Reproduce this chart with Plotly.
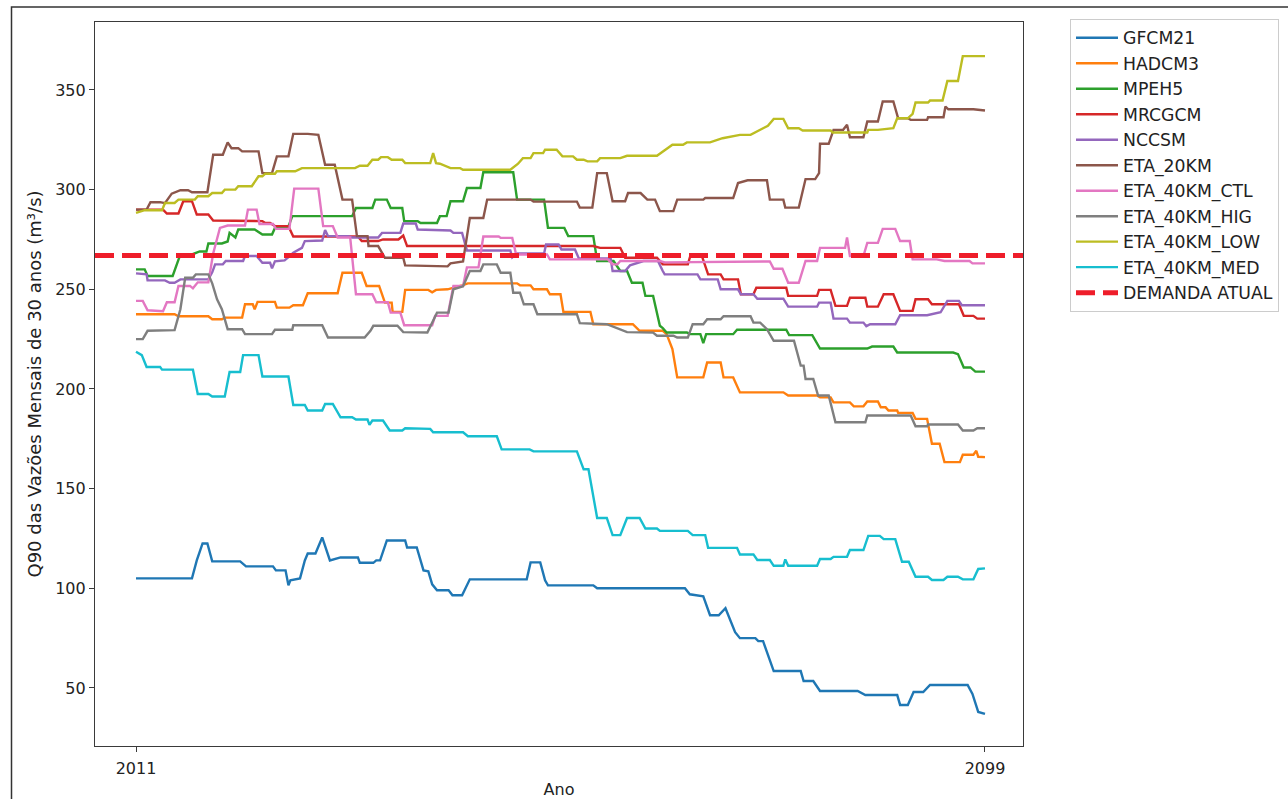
import plotly.graph_objects as go

# Q90 of 30-year monthly flows per climate model (m³/s), breakpoints by year
gfcm21_ano = [2011.0, 2016.8, 2017.3, 2017.9, 2018.4, 2018.9, 2021.8, 2022.4, 2025.2, 2025.5,
              2026.5, 2026.8, 2027.0, 2028.0, 2028.5, 2028.8, 2029.6, 2030.3, 2031.1, 2032.2,
              2034.0, 2034.2, 2035.6, 2035.9, 2036.3, 2037.0, 2038.9, 2039.1, 2040.1, 2040.8,
              2041.3, 2041.7, 2042.2, 2043.4, 2043.8, 2044.8, 2045.6, 2051.5, 2051.9, 2052.9,
              2053.4, 2053.7, 2058.4, 2058.8, 2067.9, 2068.4, 2069.8, 2070.5, 2071.4, 2072.1,
              2073.1, 2073.6, 2075.2, 2075.5, 2076.0, 2077.1, 2079.9, 2080.2, 2081.2, 2081.9,
              2085.8, 2086.6, 2089.9, 2090.2, 2091.0, 2091.6, 2092.6, 2093.3, 2097.2, 2097.7,
              2098.3, 2099.0]
gfcm21_q90 = [105, 105, 114, 122.5, 122.5, 113.5, 113.5, 111, 111, 109,
              109, 101.5, 104, 105, 114, 117.5, 117.5, 125.5, 114, 115.5,
              115.5, 112.8, 112.8, 114, 114, 124, 124, 120.5, 120.5, 109,
              108.5, 102, 99, 99, 96.5, 96.5, 104.5, 104.5, 113, 113,
              104, 101.5, 101.5, 100, 100, 97, 96, 86.5, 86.5, 90,
              78, 75, 75, 73.5, 73.5, 58.5, 58.5, 53.5, 53.5, 48.5,
              48.5, 46.5, 46.5, 41.5, 41.5, 48, 48, 51.5, 51.5, 47,
              38, 37]

hadcm3_ano = [2011.0, 2015.0, 2015.4, 2018.5, 2018.9, 2019.9, 2020.2, 2022.0, 2022.3, 2023.1,
              2023.3, 2023.6, 2025.4, 2025.6, 2026.9, 2027.3, 2028.3, 2028.8, 2031.9, 2032.4,
              2034.4, 2034.9, 2036.2, 2036.8, 2037.5, 2037.6, 2038.6, 2038.9, 2041.3, 2041.7,
              2042.1, 2042.8, 2043.3, 2044.8, 2045.4, 2050.5, 2050.8, 2051.9, 2052.2, 2053.6,
              2053.9, 2055.0, 2055.3, 2058.1, 2058.4, 2062.5, 2063.2, 2065.6, 2066.0, 2066.6,
              2067.1, 2069.8, 2070.2, 2071.6, 2071.9, 2072.9, 2073.6, 2078.1, 2078.6, 2081.6,
              2081.9, 2083.0, 2083.3, 2085.0, 2085.4, 2086.4, 2086.8, 2087.9, 2088.2, 2088.7,
              2089.0, 2089.9, 2090.0, 2091.5, 2091.8, 2093.0, 2093.5, 2094.3, 2094.8, 2096.4,
              2096.7, 2097.8, 2098.1, 2098.3, 2099.0]
hadcm3_q90 = [237.5, 237.5, 236.5, 236.5, 235, 235, 235.8, 235.8, 242.5, 242.5,
              240, 243.7, 243.7, 240.8, 240.8, 242, 242, 248, 248, 258.3,
              258.3, 251.7, 251.7, 243.3, 243.3, 238.7, 238.7, 249.7, 249.7, 248.5,
              249.7, 249.7, 250, 252, 253, 253, 252, 252, 250, 250,
              247.5, 247.5, 238.7, 238.7, 232.5, 232.5, 229.2, 229.2, 227.5, 220,
              205.8, 205.8, 213.3, 213.3, 205.8, 205.8, 198.3, 198.3, 196.7, 196.7,
              195.8, 195.8, 193.3, 193.3, 191.3, 191.3, 193.7, 193.7, 190.8, 190.8,
              189.2, 189.2, 188, 188, 185, 185, 172.5, 172.5, 163.3, 163.3,
              167, 167, 169, 166, 165.8]

mpeh5_ano = [2011.0, 2011.9, 2012.2, 2014.8, 2015.6, 2016.8, 2017.6, 2018.3, 2018.5, 2019.9,
             2020.5, 2020.7, 2021.3, 2021.6, 2023.3, 2024.1, 2025.1, 2025.4, 2026.8, 2027.2,
             2033.4, 2033.8, 2035.5, 2035.8, 2037.0, 2037.4, 2038.6, 2038.8, 2040.2, 2040.5,
             2042.2, 2042.5, 2043.2, 2043.6, 2044.9, 2045.3, 2046.7, 2047.0, 2050.1, 2050.5,
             2053.3, 2053.7, 2055.4, 2055.8, 2058.4, 2058.8, 2060.5, 2061.2, 2061.9, 2062.4,
             2063.5, 2063.8, 2064.6, 2065.3, 2065.6, 2066.0, 2068.1, 2068.4, 2069.5, 2069.8,
             2070.1, 2072.9, 2073.3, 2078.4, 2078.7, 2081.1, 2081.9, 2086.8, 2087.3, 2089.5,
             2089.9, 2095.7, 2096.2, 2096.8, 2097.5, 2098.0, 2099.0]
mpeh5_q90 = [260, 260, 256.7, 256.7, 267.5, 267.5, 269, 269, 273, 273,
             274, 278.3, 276, 280, 280, 277.5, 277.5, 280.8, 281.5, 286.7,
             286.7, 290.8, 290.8, 295, 295, 290.8, 290.8, 284.2, 284.2, 283.3,
             283.3, 286.7, 286.7, 294.2, 294.2, 300.8, 300.8, 308.7, 308.7, 295,
             295, 280.8, 280.8, 276.7, 276.7, 264.2, 264.2, 259.2, 259.2, 253.3,
             253.3, 246.7, 246.7, 231.7, 230.5, 228.3, 228.3, 227.5, 227.5, 223,
             227.5, 227.5, 229.7, 229.7, 227, 227, 220.3, 220.3, 221.3, 221.3,
             218.3, 218.3, 217.5, 210.8, 210.8, 208.7, 208.7]

mrcgcm_ano = [2011.0, 2013.8, 2014.2, 2015.4, 2015.9, 2016.8, 2017.3, 2018.5, 2019.0, 2024.1,
              2024.4, 2024.9, 2025.4, 2026.8, 2027.3, 2034.0, 2034.4, 2036.1, 2036.6, 2038.2,
              2038.7, 2039.1, 2058.4, 2059.1, 2061.2, 2061.7, 2065.0, 2065.6, 2068.2, 2068.5,
              2069.6, 2070.3, 2071.6, 2071.9, 2073.4, 2073.7, 2075.0, 2075.3, 2078.4, 2078.6,
              2081.6, 2081.8, 2083.0, 2083.5, 2084.7, 2085.0, 2086.6, 2086.8, 2087.9, 2088.5,
              2089.5, 2090.2, 2091.5, 2091.8, 2093.1, 2093.5, 2096.3, 2096.8, 2097.8, 2098.2,
              2099.0]
mrcgcm_q90 = [290, 290, 288, 288, 294.2, 294.2, 287.5, 287.5, 284.5, 284.2,
              283.3, 283.3, 281.7, 281.7, 276.5, 276.5, 274.2, 274.2, 275, 275,
              277, 271.7, 271.7, 270.8, 270.8, 265.8, 265.8, 262.5, 262.5, 267.5,
              267.5, 257.5, 257.5, 255, 255, 247.5, 247.5, 250.8, 250.8, 246.7,
              246.7, 249.7, 249.7, 241.7, 241.7, 245.8, 245.8, 241.3, 241.3, 247.5,
              247.5, 239.2, 239.2, 245, 245, 242.5, 242.5, 236.7, 236.7, 235.3,
              235.3]

nccsm_ano = [2011.0, 2012.1, 2012.2, 2014.0, 2014.5, 2015.0, 2015.6, 2018.5, 2018.9, 2019.2,
             2020.0, 2020.3, 2022.1, 2022.3, 2023.5, 2024.1, 2024.9, 2025.1, 2025.4, 2026.4,
             2026.9, 2027.3, 2028.2, 2028.5, 2030.3, 2030.6, 2030.9, 2033.0, 2033.4, 2036.1,
             2036.5, 2038.4, 2038.7, 2040.0, 2040.2, 2043.6, 2043.9, 2044.8, 2045.3, 2049.8,
             2050.0, 2050.5, 2053.3, 2053.5, 2054.8, 2055.1, 2056.5, 2056.9, 2060.2, 2060.4,
             2061.7, 2062.2, 2063.6, 2065.1, 2065.6, 2065.8, 2069.2, 2069.5, 2071.3, 2071.6,
             2073.4, 2073.7, 2075.0, 2075.4, 2078.1, 2078.6, 2081.6, 2081.8, 2083.0, 2083.3,
             2084.7, 2085.0, 2086.4, 2086.7, 2087.1, 2089.7, 2090.2, 2093.0, 2094.4, 2095.1,
             2096.3, 2096.6, 2099.0]
nccsm_q90 = [258, 257.5, 254.5, 254.5, 253.3, 253.3, 255, 255, 258.5, 262.5,
             262.5, 264.2, 264.2, 266.7, 266.7, 263.3, 263.3, 260.5, 264, 264.5,
             266.5, 268.3, 270.8, 274.2, 274.5, 279.7, 276.7, 276.7, 276, 276,
             278.3, 278.3, 283, 283, 280, 279.5, 278.3, 278.3, 269.5, 269.5,
             266, 268, 268, 272.5, 272.5, 270, 270, 265.5, 265.5, 259.2,
             259.2, 262, 264.2, 264.2, 259.2, 257.5, 257.5, 255, 255, 250,
             250, 247.5, 247.5, 245.3, 245.3, 241.3, 241.3, 243.3, 243.3, 235.3,
             235.3, 233.3, 233.3, 231.5, 232.5, 232.5, 237, 237, 238.5, 244.2,
             244.2, 242, 242]

eta_20km_ano = [2011.0, 2012.1, 2012.5, 2013.5, 2014.0, 2014.7, 2015.6, 2016.4, 2016.8, 2018.4,
                2019.0, 2020.0, 2020.5, 2020.9, 2021.6, 2022.0, 2023.7, 2024.1, 2025.1, 2025.6,
                2026.8, 2027.3, 2028.8, 2029.9, 2030.6, 2031.6, 2032.4, 2033.4, 2033.9, 2035.0,
                2035.1, 2036.1, 2036.8, 2038.7, 2038.9, 2043.3, 2043.6, 2044.9, 2045.6, 2047.0,
                2047.4, 2051.9, 2052.2, 2056.7, 2057.0, 2058.3, 2058.8, 2059.8, 2060.4, 2061.7,
                2062.0, 2063.3, 2064.0, 2064.8, 2065.3, 2066.7, 2067.1, 2069.8, 2070.0, 2072.9,
                2073.4, 2074.4, 2076.4, 2076.7, 2078.1, 2078.3, 2079.7, 2080.4, 2081.4, 2081.8,
                2081.9, 2082.8, 2083.3, 2084.3, 2084.7, 2085.0, 2086.4, 2086.8, 2087.9, 2088.4,
                2089.5, 2090.0, 2091.0, 2091.3, 2093.0, 2093.1, 2094.7, 2094.9, 2095.2, 2097.8,
                2099.0]
eta_20km_q90 = [290, 290, 293.7, 293.7, 293.2, 298, 299.7, 299.7, 298.7, 298.7,
                317.5, 317.5, 323.7, 320.8, 320.8, 319.2, 319.2, 308.3, 308.3, 316.7,
                316.7, 328, 328, 327.5, 312.5, 312.5, 295, 295, 276.7, 276.7,
                271.7, 271.7, 265.8, 265.8, 262, 261.5, 263, 264, 285.8, 285.8,
                295, 295, 294, 294, 291, 291, 308.3, 308.3, 294.2, 294.2,
                298.3, 298.3, 295, 295, 289.2, 289.2, 295, 295, 295.8, 295.8,
                303.3, 304.7, 304.7, 295, 295, 291, 291, 305.3, 305.3, 308.3,
                323, 323, 330, 330, 332.5, 326.3, 326.3, 334.2, 334.2, 344.2,
                344.2, 335.8, 335.8, 335, 335, 336.3, 336.3, 341.7, 340.3, 340.3,
                339.7]

eta_40km_ctl_ano = [2011.0, 2011.7, 2012.2, 2013.8, 2014.2, 2015.0, 2015.4, 2016.6, 2016.9, 2017.4,
                    2018.5, 2019.0, 2019.7, 2020.5, 2022.3, 2022.6, 2023.5, 2023.8, 2025.2, 2025.5,
                    2026.9, 2027.4, 2029.9, 2030.4, 2031.4, 2031.9, 2033.2, 2033.8, 2035.5, 2035.9,
                    2037.1, 2037.4, 2038.4, 2038.8, 2041.7, 2042.0, 2043.3, 2043.9, 2044.9, 2045.3,
                    2046.5, 2047.0, 2048.6, 2048.8, 2050.0, 2050.4, 2053.6, 2053.9, 2059.9, 2060.4,
                    2060.9, 2061.2, 2065.3, 2065.8, 2076.7, 2077.1, 2078.0, 2078.6, 2079.7, 2080.4,
                    2081.6, 2081.9, 2084.5, 2084.7, 2085.0, 2086.4, 2086.8, 2087.9, 2088.4, 2089.7,
                    2090.2, 2091.2, 2091.5, 2094.0, 2094.8, 2097.4, 2097.7, 2099.0]
eta_40km_ctl_q90 = [244.2, 244.2, 239.5, 239, 243.5, 243.5, 251.7, 251.7, 250.5, 253.5,
                    253.5, 268, 280.8, 282, 282, 290, 290, 282.8, 282.8, 280.3,
                    280.3, 300.5, 300.5, 281.7, 281.7, 276, 276, 247.5, 247.5, 243.5,
                    243.5, 238.3, 238.3, 232, 232, 236.7, 236.7, 251.7, 251.7, 261,
                    261, 276.5, 276.5, 275.8, 275.8, 267.5, 267.5, 265, 265, 262.5,
                    262.5, 264.2, 264.2, 263.5, 264, 260.3, 260.3, 253.3, 253.3, 264.2,
                    264.2, 270.8, 270.8, 276, 266.7, 266.7, 273.3, 273.3, 280.3, 280.3,
                    274.2, 274.2, 265, 265, 264.2, 264.2, 263, 263]

eta_40km_hig_ano = [2011.0, 2011.7, 2012.2, 2015.0, 2015.6, 2016.1, 2016.9, 2017.2, 2018.5, 2018.9,
                    2019.4, 2019.9, 2020.5, 2022.0, 2022.3, 2025.1, 2025.4, 2027.2, 2027.3, 2030.3,
                    2030.9, 2034.7, 2035.3, 2035.6, 2038.1, 2038.7, 2041.2, 2041.7, 2042.2, 2043.4,
                    2043.9, 2044.9, 2045.6, 2046.7, 2047.0, 2048.4, 2048.8, 2049.8, 2050.1, 2050.8,
                    2051.2, 2052.2, 2052.6, 2056.7, 2057.0, 2059.8, 2061.9, 2064.6, 2065.0, 2066.7,
                    2067.1, 2068.2, 2068.7, 2069.8, 2070.2, 2071.6, 2071.9, 2074.7, 2075.0, 2075.7,
                    2076.4, 2077.1, 2079.2, 2079.9, 2080.2, 2080.4, 2081.2, 2081.7, 2082.8, 2083.5,
                    2086.6, 2086.8, 2091.3, 2091.8, 2093.0, 2093.1, 2096.2, 2096.7, 2097.8, 2098.2,
                    2099.0]
eta_40km_hig_q90 = [225, 225, 229.2, 229.5, 240, 255.8, 255.8, 257.5, 257.5, 253,
                    245, 240, 230, 230, 227.5, 227.5, 229.7, 229.7, 232, 232,
                    225.8, 225.8, 229.2, 231.7, 231.7, 228.5, 228.3, 233.3, 238.3, 238.3,
                    250, 251.5, 259.2, 259.2, 262.5, 262.5, 258.3, 258.3, 248.3, 248.3,
                    242.5, 242.5, 237.5, 237.5, 233, 232.5, 228.5, 228.3, 226.7, 226.7,
                    225.8, 225.8, 232.5, 232.5, 235, 235, 236.5, 236.5, 233.3, 233.3,
                    230, 224.2, 224.2, 211.7, 211.7, 205, 205, 196.7, 196.7, 183.3,
                    183.3, 186.7, 186.7, 181.3, 181.3, 182.2, 182.2, 179.2, 179.2, 180.3,
                    180.3]

eta_40km_low_ano = [2011.0, 2011.9, 2013.7, 2014.0, 2015.0, 2015.4, 2017.1, 2017.4, 2018.5, 2018.9,
                    2019.9, 2020.2, 2021.3, 2021.6, 2023.0, 2023.7, 2024.1, 2024.4, 2025.4, 2025.6,
                    2027.5, 2028.2, 2033.7, 2034.2, 2035.0, 2035.5, 2036.1, 2036.4, 2037.1, 2037.5,
                    2038.6, 2038.9, 2041.5, 2041.8, 2042.1, 2042.5, 2043.6, 2044.6, 2044.9, 2049.8,
                    2050.6, 2051.1, 2051.9, 2052.2, 2053.2, 2053.4, 2054.6, 2055.2, 2056.3, 2056.7,
                    2057.4, 2057.8, 2058.8, 2059.1, 2061.2, 2061.9, 2065.0, 2066.6, 2067.7, 2068.1,
                    2070.5, 2071.8, 2073.6, 2074.7, 2076.0, 2076.5, 2077.1, 2078.1, 2078.6, 2079.7,
                    2080.1, 2083.0, 2083.2, 2086.8, 2086.9, 2087.9, 2089.5, 2089.9, 2091.0, 2091.5,
                    2091.8, 2093.1, 2093.3, 2094.6, 2095.1, 2096.2, 2096.7, 2099.0]
eta_40km_low_q90 = [288.3, 289.7, 289.7, 293.3, 293.3, 295, 295, 296.7, 296.7, 298.3,
                    298.3, 300, 300, 301.7, 301.7, 306.7, 306.7, 308, 308, 309.2,
                    309.2, 310.8, 310.8, 312, 312, 315, 315, 316.3, 316.3, 315,
                    315, 313.3, 313.3, 318.3, 313.3, 313, 310.8, 310.8, 310, 310,
                    313, 315.8, 315.8, 318.3, 318.3, 320, 320, 316.7, 316.7, 315,
                    315, 314.2, 314.2, 315.8, 315.8, 317, 317, 322.5, 322.5, 323.7,
                    323.7, 325.8, 327.5, 327.5, 330.8, 332, 335.5, 335.5, 330.8, 330.8,
                    329.7, 329.7, 328.7, 328.7, 330, 330, 330.8, 335.8, 335.8, 338,
                    343.7, 343.7, 344.7, 344.7, 354.5, 354.5, 367, 367]

eta_40km_med_ano = [2011.0, 2011.6, 2012.1, 2013.5, 2013.7, 2016.9, 2017.4, 2018.5, 2018.9, 2020.2,
                    2020.7, 2021.8, 2022.1, 2023.7, 2024.1, 2026.8, 2027.3, 2028.5, 2028.8, 2030.3,
                    2030.6, 2031.4, 2032.2, 2033.4, 2033.8, 2035.0, 2035.2, 2035.5, 2036.6, 2037.3,
                    2038.6, 2038.9, 2041.5, 2041.8, 2044.9, 2045.4, 2048.4, 2048.9, 2051.8, 2052.2,
                    2056.7, 2057.4, 2057.9, 2058.8, 2059.8, 2060.4, 2061.2, 2061.9, 2063.2, 2063.8,
                    2065.0, 2065.3, 2068.2, 2068.7, 2070.0, 2070.3, 2073.3, 2073.6, 2075.0, 2075.4,
                    2076.7, 2077.1, 2078.1, 2078.3, 2078.6, 2081.6, 2081.9, 2083.0, 2083.3, 2084.7,
                    2085.0, 2086.4, 2086.9, 2088.1, 2088.5, 2089.7, 2090.4, 2091.1, 2091.8, 2093.1,
                    2093.5, 2094.7, 2095.1, 2096.2, 2096.7, 2097.8, 2098.3, 2099.0]
eta_40km_med_q90 = [218.7, 217, 211, 211, 209.7, 209.7, 197.5, 197.5, 196.2, 196.2,
                    208.5, 208.5, 217, 217, 206.3, 206.3, 192, 192, 189.2, 189.2,
                    192.5, 192.5, 185.8, 185.8, 184.7, 184.7, 182, 184.2, 184.2, 179.2,
                    179.2, 180.3, 180, 178.3, 178.3, 176.3, 176.3, 169.7, 169.7, 168.7,
                    168.7, 159.7, 159.7, 135.3, 135.3, 126.7, 126.7, 135.3, 135.3, 130,
                    130, 128.8, 128.8, 126.7, 126.7, 120.3, 120.3, 117, 117, 114.2,
                    114.2, 111.3, 111.3, 114.5, 111.3, 111.3, 114.7, 114.7, 115.8, 115.8,
                    119.2, 119.2, 126.3, 126.3, 124.7, 124.7, 113.3, 113.3, 105.8, 105.8,
                    104.2, 104.2, 105.8, 105.8, 104.5, 104.5, 109.7, 110]

demanda_atual = 267

modelos = [
    ("GFCM21", gfcm21_ano, gfcm21_q90, "#1f77b4"),
    ("HADCM3", hadcm3_ano, hadcm3_q90, "#ff7f0e"),
    ("MPEH5", mpeh5_ano, mpeh5_q90, "#2ca02c"),
    ("MRCGCM", mrcgcm_ano, mrcgcm_q90, "#d62728"),
    ("NCCSM", nccsm_ano, nccsm_q90, "#9467bd"),
    ("ETA_20KM", eta_20km_ano, eta_20km_q90, "#8c564b"),
    ("ETA_40KM_CTL", eta_40km_ctl_ano, eta_40km_ctl_q90, "#e377c2"),
    ("ETA_40KM_HIG", eta_40km_hig_ano, eta_40km_hig_q90, "#7f7f7f"),
    ("ETA_40KM_LOW", eta_40km_low_ano, eta_40km_low_q90, "#bcbd22"),
    ("ETA_40KM_MED", eta_40km_med_ano, eta_40km_med_q90, "#17becf"),
]

x_lo, x_hi = 2006.75, 2102.94
y_lo, y_hi = 20.9, 384.1

W, H = 1288, 799
ML, MR, MT, MB = 95, 265, 22, 53
pw, ph = W - ML - MR, H - MT - MB

fig = go.Figure()
for nome, anos, q90, cor in modelos:
    fig.add_trace(go.Scatter(
        x=anos, y=q90, mode="lines", name=nome,
        line=dict(color=cor, width=2.4),
    ))

# current demand drawn across the whole axis width
fig.add_trace(go.Scatter(
    x=[x_lo, x_hi], y=[demanda_atual, demanda_atual], mode="lines",
    name="DEMANDA ATUAL",
    line=dict(color="#ee1d2a", width=5, dash="19px,8px"),
))

font = "DejaVu Sans, Verdana, sans-serif"
axis_common = dict(
    showgrid=False, zeroline=False, showline=True, mirror=True, automargin=False,
    linecolor="#3a3a3a", linewidth=1.2, ticks="outside", ticklen=5,
    tickwidth=1.2, tickcolor="#3a3a3a",
    tickfont=dict(family=font, size=16, color="#222222"),
)

fig.update_layout(
    width=W, height=H,
    margin=dict(l=ML, r=MR, t=MT, b=MB, autoexpand=False),
    paper_bgcolor="white", plot_bgcolor="white",
    xaxis=dict(
        range=[x_lo, x_hi], tickvals=[2011, 2099], ticktext=["2011", "2099"],
        ticklabelstandoff=3,
        title=dict(text="Ano", font=dict(family=font, size=16, color="#222222"), standoff=8),
        **axis_common,
    ),
    yaxis=dict(
        range=[y_lo, y_hi], tickvals=[50, 100, 150, 200, 250, 300, 350],
        title=dict(text="Q90 das Vazões Mensais de 30 anos (m³/s)",
                   font=dict(family=font, size=18, color="#222222"), standoff=8),
        **axis_common,
    ),
    legend=dict(
        x=(1070 - ML) / pw, y=1 - (19 - MT) / ph, xanchor="left", yanchor="top",
        bgcolor="white", bordercolor="#cccccc", borderwidth=1,
        font=dict(family=font, size=17.3, color="#222222"),
        itemwidth=42,
    ),
    shapes=[dict(
        type="rect", xref="paper", yref="paper",
        x0=(11.5 - ML) / pw, x1=(W + 20 - ML) / pw,
        y0=-(MB + 20) / ph, y1=1 + (MT - 7) / ph,
        line=dict(color="#333333", width=1.5), fillcolor="rgba(0,0,0,0)", layer="above",
    )],
    showlegend=True,
)

fig.write_html("out.html")
